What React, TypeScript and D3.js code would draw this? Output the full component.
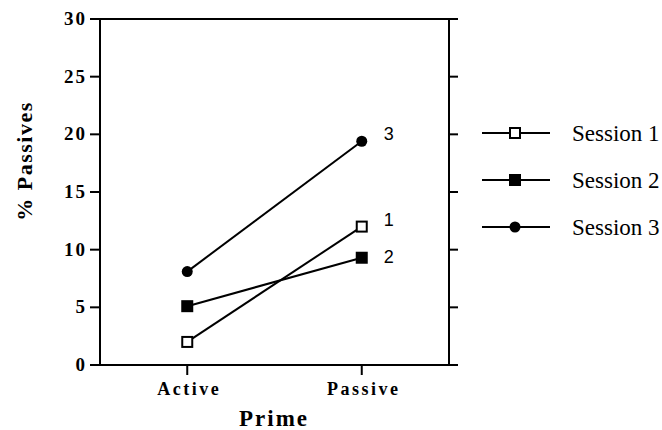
import { useEffect, useRef } from 'react';
import * as d3 from 'd3';

// data
const primes = ['Active', 'Passive'];
const session1 = [2.0, 12.0];
const session2 = [5.1, 9.3];
const session3 = [8.1, 19.4];
const sessionNames = ['Session 1', 'Session 2', 'Session 3'];
const endLabels = ['1', '2', '3'];
const yTicks = [0, 5, 10, 15, 20, 25, 30];

const App = () => {
  const svgRef = useRef<SVGSVGElement>(null);

  useEffect(() => {
    const svg = d3.select(svgRef.current);
    svg.selectAll('*').remove();

    const left = 100, right = 449, top = 19, bottom = 365;
    const x = d3.scalePoint().domain(primes).range([left, right]).padding(0.5);
    const y = d3.scaleLinear().domain([0, 30]).range([bottom, top]);
    const serif = '"Liberation Serif", "Times New Roman", serif';

    const series = [
      { name: sessionNames[0], label: endLabels[0], values: session1, shape: 'square', fill: '#fff', dy: -1 },
      { name: sessionNames[1], label: endLabels[1], values: session2, shape: 'square', fill: '#000', dy: 5 },
      { name: sessionNames[2], label: endLabels[2], values: session3, shape: 'circle', fill: '#000', dy: -1 },
    ];

    const g = svg.append('g');

    // frame: left + right verticals, top/bottom lines stretch past the box
    g.append('line').attr('x1', left).attr('x2', left).attr('y1', top).attr('y2', bottom)
      .attr('stroke', '#000').attr('stroke-width', 2);
    g.append('line').attr('x1', right).attr('x2', right).attr('y1', top).attr('y2', bottom)
      .attr('stroke', '#000').attr('stroke-width', 2);
    g.append('line').attr('x1', left - 10).attr('x2', right + 9).attr('y1', top).attr('y2', top)
      .attr('stroke', '#000').attr('stroke-width', 2);
    g.append('line').attr('x1', left - 10).attr('x2', right + 9).attr('y1', bottom).attr('y2', bottom)
      .attr('stroke', '#000').attr('stroke-width', 2);

    // y ticks both sides
    g.selectAll('.ytl').data(yTicks).enter().append('line')
      .attr('x1', left - 10).attr('x2', left)
      .attr('y1', d => y(d)).attr('y2', d => y(d))
      .attr('stroke', '#000').attr('stroke-width', 2);
    g.selectAll('.ytr').data(yTicks).enter().append('line')
      .attr('x1', right).attr('x2', right + 9)
      .attr('y1', d => y(d)).attr('y2', d => y(d))
      .attr('stroke', '#000').attr('stroke-width', 2);

    g.selectAll('.ylab').data(yTicks).enter().append('text')
      .attr('x', left - 13).attr('y', d => y(d) + 6)
      .attr('text-anchor', 'end')
      .attr('font-family', serif)
      .attr('font-weight', 'bold').attr('font-size', '19px')
      .attr('letter-spacing', '2px')
      .text(d => d);

    // x ticks
    g.selectAll('.xt').data(primes).enter().append('line')
      .attr('x1', d => x(d)!).attr('x2', d => x(d)!)
      .attr('y1', bottom).attr('y2', bottom + 10)
      .attr('stroke', '#000').attr('stroke-width', 2);

    g.selectAll('.xlab').data(primes).enter().append('text')
      .attr('x', d => x(d)! + 2).attr('y', bottom + 30)
      .attr('text-anchor', 'middle')
      .attr('font-family', serif)
      .attr('font-weight', 'bold').attr('font-size', '18px')
      .attr('letter-spacing', '2.5px')
      .text(d => d);

    // axis titles
    svg.append('text')
      .attr('x', 274).attr('y', 426)
      .attr('text-anchor', 'middle')
      .attr('font-family', serif)
      .attr('font-weight', 'bold').attr('font-size', '23px')
      .attr('letter-spacing', '2px')
      .text('Prime');

    svg.append('text')
      .attr('transform', 'translate(32,161) rotate(-90)')
      .attr('text-anchor', 'middle')
      .attr('font-family', serif)
      .attr('font-weight', 'bold').attr('font-size', '22px')
      .attr('letter-spacing', '1.5px')
      .text('% Passives');

    const line = d3.line<number>()
      .x((_, i) => x(primes[i])!)
      .y(d => y(d));

    const drawMarker = (sel: any, shape: string, fill: string, cx: number, cy: number, s: number) => {
      if (shape === 'circle') {
        sel.append('circle').attr('cx', cx).attr('cy', cy).attr('r', s / 2 + 0.5)
          .attr('fill', '#000');
      } else {
        sel.append('rect')
          .attr('x', cx - s / 2).attr('y', cy - s / 2)
          .attr('width', s).attr('height', s)
          .attr('fill', fill).attr('stroke', '#000').attr('stroke-width', 2);
      }
    };

    series.forEach(s => {
      g.append('path').datum(s.values).attr('d', line)
        .attr('fill', 'none').attr('stroke', '#000').attr('stroke-width', 2);
      s.values.forEach((v, i) => drawMarker(g, s.shape, s.fill, x(primes[i])!, y(v), 10));
      g.append('text')
        .attr('x', x(primes[1])! + 22).attr('y', y(s.values[1]) + s.dy)
        .attr('font-family', '"Liberation Sans", Arial, sans-serif')
        .attr('font-size', '18px')
        .text(s.label);
    });

    // legend
    const lg = svg.append('g');
    series.forEach((s, i) => {
      const ly = 133 + i * 47;
      lg.append('line').attr('x1', 482).attr('x2', 550).attr('y1', ly).attr('y2', ly)
        .attr('stroke', '#000').attr('stroke-width', 2);
      drawMarker(lg, s.shape, s.fill, 515, ly, 10);
      lg.append('text')
        .attr('x', 572).attr('y', ly + 8)
        .attr('font-family', serif)
        .attr('font-size', '23px')
        .text(s.name);
    });
  }, []);

  return (
    <svg
      ref={svgRef}
      width={662}
      height={430}
      style={{ position: 'absolute', left: 0, top: 0, background: '#fff' }}
    />
  );
};

export default App;
